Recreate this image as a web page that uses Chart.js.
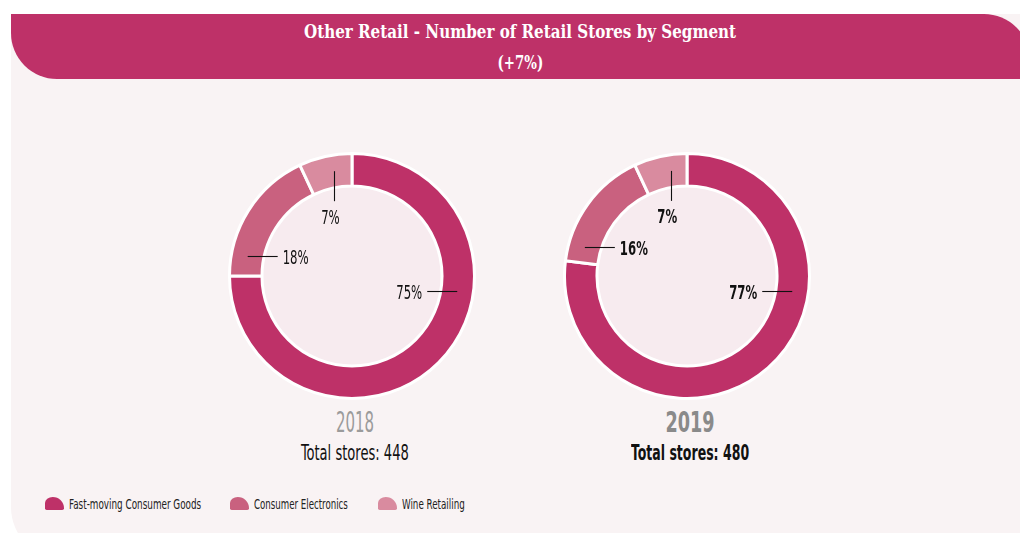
<!DOCTYPE html>
<html><head><meta charset="utf-8">
<script src="https://cdn.jsdelivr.net/npm/chart.js@4.4.1/dist/chart.umd.min.js"></script>
<style>
html,body{margin:0;padding:0;width:1020px;height:533px;overflow:hidden;background:#fff;}
#panel{position:absolute;left:11px;top:14px;width:1040px;height:545px;background:#f9f3f4;border-radius:0 0 0 52px;}
#header{position:absolute;left:11px;top:14px;width:1019px;height:65px;background:#be3168;border-radius:0 46px 0 46px;}
.title{position:absolute;left:0;width:100%;text-align:center;color:#fff;font-family:'DejaVu Serif Condensed','DejaVu Serif',serif;font-weight:bold;font-stretch:condensed;font-size:19px;line-height:24px;white-space:nowrap;}
.title span{display:inline-block;transform-origin:50% 50%;}
.narrow{font-family:'Liberation Sans Narrow','Arial Narrow','DejaVu Sans Condensed',sans-serif;font-stretch:condensed;}
.ctext{position:absolute;width:300px;text-align:center;white-space:nowrap;}
.ctext span{display:inline-block;transform-origin:50% 50%;}
.year{font-size:28px;line-height:30px;}
.total{font-size:21px;line-height:24px;color:#111;}
canvas{position:absolute;}
#legend{position:absolute;left:45px;top:494px;height:20px;}
.litem{position:absolute;top:0;white-space:nowrap;}
.leaf{position:absolute;top:3px;width:19px;height:13px;border-radius:9px 13px 2px 2px / 7px 13px 2px 2px;}
.ltext{position:absolute;left:24px;top:0;font-size:14.5px;line-height:20px;color:#222;}
.ltext span{display:inline-block;transform-origin:0 50%;}
</style>
</head><body>
<div id="panel"></div>
<div id="header">
  <div class="title" style="top:5px"><span id="t1"></span></div>
  <div class="title" style="top:36px"><span id="t2"></span></div>
</div>
<canvas id="c0" width="248" height="248" style="left:228px;top:152px"></canvas>
<canvas id="c1" width="248" height="248" style="left:563px;top:152px"></canvas>
<div id="texts"></div>
<div id="legend"></div>
<script>
// ---- data ----
const titleText = 'Other Retail - Number of Retail Stores by Segment';
const growthText = '(+7%)';
const segments = ['Fast-moving Consumer Goods', 'Consumer Electronics', 'Wine Retailing'];
const years = ['2018', '2019'];
const shares2018 = [75, 18, 7];
const shares2019 = [77, 16, 7];
const totalStores = [448, 480];

// ---- styles ----
const segColors = ['#be3168', '#c9617f', '#d98b9f'];
const innerFill = '#f7ebef';
const narrowFont = "'Liberation Sans Narrow','Arial Narrow','DejaVu Sans Condensed',sans-serif";
const centersX = [352, 687];
const yearColors = ['#9b9b9b', '#8a8a8a'];
const bold = [false, true];
// target rendered widths (px) of texts, to mimic the condensed face
const yearW = [38, 49];
const totalW = [108, 118];
const legendW = [132, 94, 63];
const labelRefW = 26; // width of "75%" normal weight
// label anchors (angle clockwise from top, leader direction)
const anchorSets = [
  [{angle: 98, dir: 'h'}, {angle: 281, dir: 'h'}, {angle: 350.5, dir: 'v'}],
  [{angle: 98, dir: 'h'}, {angle: 286, dir: 'h'}, {angle: 351.5, dir: 'v'}]
];

function fitSpan(span, w) {
  const nat = span.offsetWidth;
  if (nat > 0) span.style.transform = 'scaleX(' + (w / nat) + ')';
}

document.getElementById('t1').textContent = titleText;
document.getElementById('t2').textContent = growthText;
fitSpan(document.getElementById('t1'), 432);
fitSpan(document.getElementById('t2'), 46);

const mctx = document.createElement('canvas').getContext('2d');
mctx.font = '19px ' + narrowFont;
const labelScale = labelRefW / mctx.measureText('75%').width;

const leaderPlugin = {
  id: 'leaders',
  beforeDatasetsDraw(chart, args, opts) {
    const arc = chart.getDatasetMeta(0).data[0];
    const ctx = chart.ctx;
    ctx.save();
    ctx.beginPath();
    ctx.arc(arc.x, arc.y, arc.innerRadius, 0, Math.PI * 2);
    ctx.fillStyle = opts.innerFill;
    ctx.fill();
    ctx.restore();
  },
  afterDatasetsDraw(chart, args, opts) {
    const meta = chart.getDatasetMeta(0);
    const data = chart.data.datasets[0].data;
    const ctx = chart.ctx;
    meta.data.forEach((arc, i) => {
      const p = opts.anchors[i];
      const r = (arc.innerRadius + arc.outerRadius) / 2;
      const a = (p.angle - 90) * Math.PI / 180;
      const x0 = arc.x + r * Math.cos(a), y0 = arc.y + r * Math.sin(a);
      let x1 = x0, y1 = y0;
      if (p.dir === 'h') x1 = x0 + (x0 > arc.x ? -opts.len : opts.len);
      else y1 = y0 + (y0 > arc.y ? -opts.len : opts.len);
      ctx.save();
      ctx.strokeStyle = '#111';
      ctx.lineWidth = 1.1;
      ctx.beginPath();
      if (p.dir === 'v') {
        ctx.moveTo(Math.round(x0) + 0.5, y0); ctx.lineTo(Math.round(x1) + 0.5, y1);
      } else {
        ctx.moveTo(x0, Math.round(y0) + 0.5); ctx.lineTo(x1, Math.round(y1) + 0.5);
      }
      ctx.stroke();
      ctx.fillStyle = '#111';
      ctx.font = (opts.bold ? 'bold ' : '') + opts.fontSize + 'px ' + narrowFont;
      const txt = data[i] + '%';
      let tx, ty;
      if (p.dir === 'h') {
        ctx.textBaseline = 'middle';
        if (x1 < x0) { ctx.textAlign = 'right'; tx = x1 - opts.gap; }
        else { ctx.textAlign = 'left'; tx = x1 + opts.gap; }
        ty = y1 + 3;
      } else {
        ctx.textAlign = 'center';
        ctx.textBaseline = 'top';
        tx = x1 - 4; ty = y1 + 8;
      }
      ctx.translate(tx, ty);
      ctx.scale(opts.scaleX, 1);
      ctx.fillText(txt, 0, 0);
      ctx.restore();
    });
  }
};

const seriesByYear = [shares2018, shares2019];
seriesByYear.forEach((vals, k) => {
  new Chart(document.getElementById('c' + k), {
    type: 'doughnut',
    data: {
      labels: segments,
      datasets: [{
        data: vals,
        backgroundColor: segColors,
        borderColor: '#ffffff',
        borderWidth: 3,
        hoverOffset: 0,
        offset: 0
      }]
    },
    options: {
      responsive: false,
      animation: false,
      events: [],
      cutout: '73.5%',
      layout: {padding: 0},
      plugins: {
        legend: {display: false},
        tooltip: {enabled: false},
        leaders: {anchors: anchorSets[k], len: 30, gap: 5, fontSize: 19, scaleX: labelScale, bold: bold[k], innerFill: innerFill}
      }
    },
    plugins: [leaderPlugin]
  });
});

// year + totals text
const texts = document.getElementById('texts');
years.forEach((y, k) => {
  const cx = centersX[k] + 3;
  const yd = document.createElement('div');
  yd.className = 'ctext narrow year';
  yd.style.left = (cx - 150) + 'px';
  yd.style.top = '408px';
  yd.style.color = yearColors[k];
  yd.style.fontWeight = bold[k] ? 'bold' : 'normal';
  const ys = document.createElement('span');
  ys.textContent = y;
  yd.appendChild(ys);
  texts.appendChild(yd);
  fitSpan(ys, yearW[k]);
  const td = document.createElement('div');
  td.className = 'ctext narrow total';
  td.style.left = (cx - 150) + 'px';
  td.style.top = '441px';
  td.style.fontWeight = bold[k] ? 'bold' : 'normal';
  const ts = document.createElement('span');
  ts.textContent = 'Total stores: ' + totalStores[k];
  td.appendChild(ts);
  texts.appendChild(td);
  fitSpan(ts, totalW[k]);
});

// legend
const legend = document.getElementById('legend');
const legendX = [0, 185, 333];
segments.forEach((s, i) => {
  const it = document.createElement('div');
  it.className = 'litem';
  it.style.left = legendX[i] + 'px';
  const lf = document.createElement('div');
  lf.className = 'leaf';
  lf.style.background = segColors[i];
  const lt = document.createElement('div');
  lt.className = 'ltext narrow';
  const ls = document.createElement('span');
  ls.textContent = s;
  lt.appendChild(ls);
  it.appendChild(lf); it.appendChild(lt);
  legend.appendChild(it);
  fitSpan(ls, legendW[i]);
});
</script>
</body></html>
